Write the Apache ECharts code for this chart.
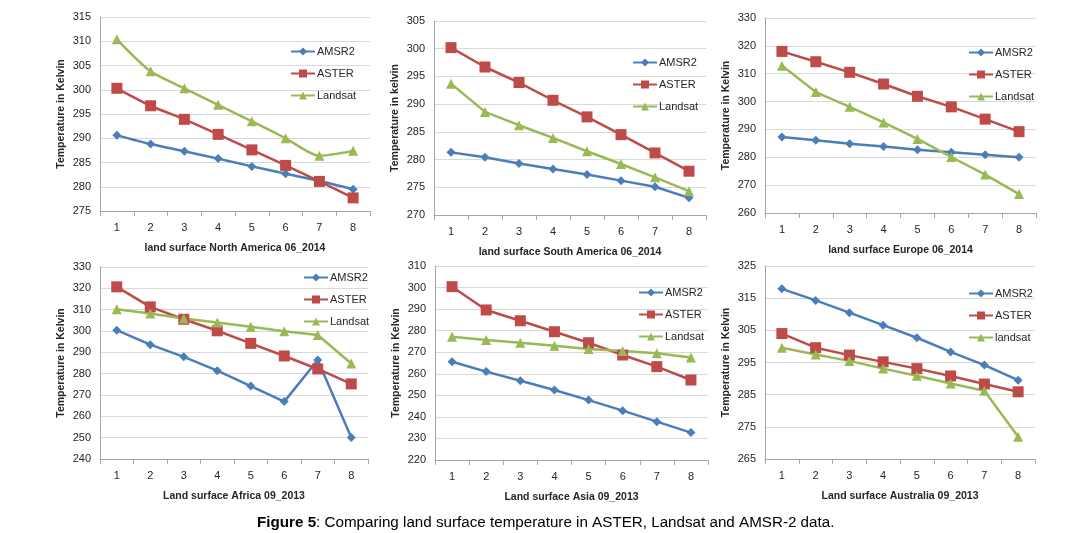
<!DOCTYPE html>
<html>
<head>
<meta charset="utf-8">
<script src="https://cdn.jsdelivr.net/npm/echarts@6/dist/echarts.min.js"></script>
<style>
html,body{margin:0;padding:0;background:#fff;}
#chart{width:1071px;height:533px;}
</style>
</head>
<body>
<div id="chart"></div>
<script>
var categories = ['1','2','3','4','5','6','7','8'];

var naAMSR2   = [290.6, 288.8, 287.3, 285.8, 284.2, 282.7, 281.2, 279.5];
var naASTER   = [300.3, 296.7, 293.9, 290.8, 287.6, 284.4, 281.1, 277.7];
var naLandsat = [310.4, 303.8, 300.3, 296.9, 293.5, 290.0, 286.4, 287.4];

var saAMSR2   = [281.3, 280.4, 279.3, 278.3, 277.3, 276.2, 275.1, 273.1];
var saASTER   = [300.2, 296.7, 293.9, 290.7, 287.7, 284.5, 281.2, 277.9];
var saLandsat = [293.7, 288.6, 286.2, 283.9, 281.5, 279.2, 276.8, 274.3];

var euAMSR2   = [287.3, 286.1, 284.9, 283.9, 282.7, 281.8, 280.9, 280.0];
var euASTER   = [318.0, 314.3, 310.5, 306.3, 301.9, 298.1, 293.7, 289.2];
var euLandsat = [312.9, 303.4, 298.1, 292.5, 286.6, 280.1, 273.8, 266.8];

var afAMSR2   = [300.4, 293.6, 287.9, 281.4, 274.2, 266.9, 286.4, 250.1];
var afASTER   = [320.7, 311.3, 305.5, 300.1, 294.2, 288.3, 282.2, 275.2];
var afLandsat = [310.2, 308.2, 305.9, 304.0, 302.0, 299.9, 298.1, 284.8];

var asAMSR2   = [265.6, 261.0, 256.8, 252.5, 247.8, 242.9, 237.8, 232.7];
var asASTER   = [300.4, 289.6, 284.6, 279.5, 274.4, 268.7, 263.3, 257.1];
var asLandsat = [277.2, 275.7, 274.4, 273.0, 271.5, 270.6, 269.5, 267.6];

var auAMSR2   = [317.9, 314.3, 310.5, 306.6, 302.7, 298.3, 294.2, 289.5];
var auASTER   = [304.0, 299.6, 297.3, 295.2, 293.1, 290.8, 288.3, 285.9];
var auLandsat = [299.6, 297.5, 295.5, 293.1, 290.9, 288.5, 286.2, 271.9];

var panelTitles = [
  'land surface North America 06_2014',
  'land surface South America 06_2014',
  'land surface Europe 06_2014',
  'Land surface Africa 09_2013',
  'Land surface Asia 09_2013',
  'Land surface Australia 09_2013'
];
var yTitles = [
  'Temperature in Kelvin','Temperature in kelvin','Temperature in Kelvin',
  'Temperature in Kelvin','Temperature in Kelvin','Temperature in Kelvin'
];
var yMins = [275, 270, 260, 240, 220, 265];
var yMaxs = [315, 305, 330, 330, 310, 325];
var yIntervals = [5, 5, 10, 10, 10, 10];
var landsatNames = ['Landsat','Landsat','Landsat','Landsat','Landsat','landsat'];

var panelData = [
  [naAMSR2, naASTER, naLandsat],
  [saAMSR2, saASTER, saLandsat],
  [euAMSR2, euASTER, euLandsat],
  [afAMSR2, afASTER, afLandsat],
  [asAMSR2, asASTER, asLandsat],
  [auAMSR2, auASTER, auLandsat]
];

var grids = [
  {left:100, top:17,  width:270, height:194},
  {left:434, top:21,  width:272, height:194},
  {left:765, top:18,  width:271, height:195},
  {left:100, top:267, width:268, height:192},
  {left:435, top:266, width:273, height:194},
  {left:765, top:266, width:270, height:193}
];
var legendPos = [
  {left:290, top:46}, {left:632, top:57}, {left:968, top:47},
  {left:303, top:272}, {left:638, top:287}, {left:968, top:288}
];

var FONT = 'Liberation Sans';
var TXT = '#262626';
var colors = ['#4A7EBB', '#BE4B48', '#98B954'];
var symbols = ['diamond', 'rect', 'triangle'];
var symbolSizes = [9, 11, 10];

var xAxes = [], yAxes = [], series = [], legends = [];
for (var i = 0; i < 6; i++) {
  xAxes.push({
    gridIndex: i, type: 'category', data: categories, boundaryGap: true,
    name: panelTitles[i], nameLocation: 'middle', nameGap: 32,
    nameTextStyle: {fontFamily: FONT, fontSize: 10.5, fontWeight: 'bold', color: TXT},
    axisLine: {lineStyle: {color: '#A6A6A6'}},
    axisTick: {show: true, length: 5, lineStyle: {color: '#A6A6A6'}},
    axisLabel: {fontFamily: FONT, fontSize: 11, color: TXT, margin: 11},
    splitLine: {show: false}
  });
  yAxes.push({
    gridIndex: i, type: 'value', min: yMins[i], max: yMaxs[i], interval: yIntervals[i],
    name: yTitles[i], nameLocation: 'middle', nameGap: 33, nameRotate: 90,
    nameTextStyle: {fontFamily: FONT, fontSize: 10.5, fontWeight: 'bold', color: TXT},
    axisLine: {show: true, lineStyle: {color: '#A6A6A6'}},
    axisTick: {show: false},
    axisLabel: {fontFamily: FONT, fontSize: 11, color: TXT, margin: 9},
    splitLine: {show: true, lineStyle: {color: '#D9D9D9', width: 1}}
  });
  var names = ['AMSR2', 'ASTER', landsatNames[i]];
  for (var s = 0; s < 3; s++) {
    series.push({
      type: 'line', name: names[s], xAxisIndex: i, yAxisIndex: i,
      data: panelData[i][s],
      smooth: i === 0 ? 0.25 : false,
      symbol: symbols[s], symbolSize: symbolSizes[s],
      lineStyle: {color: colors[s], width: 2.5},
      itemStyle: {color: colors[s]},
      animation: false
    });
  }
  legends.push({
    left: legendPos[i].left, top: legendPos[i].top, orient: 'vertical', padding: 0,
    data: names, itemWidth: 24, itemHeight: 10, itemGap: 11,
    textStyle: {fontFamily: FONT, fontSize: 11, color: TXT, padding: [0,0,0,-3]},
    selectedMode: false
  });
}

var chart = echarts.init(document.getElementById('chart'));
chart.setOption({
  animation: false,
  backgroundColor: '#fff',
  title: {
    text: '{b|Figure 5}: Comparing land surface temperature in ASTER, Landsat and AMSR-2 data.',
    left: 252, top: 510,
    textStyle: {
      fontFamily: FONT, fontSize: 15.2, fontWeight: 'normal', color: '#000',
      rich: {b: {fontFamily: FONT, fontSize: 15.2, fontWeight: 'bold', color: '#000'}}
    }
  },
  grid: grids,
  xAxis: xAxes,
  yAxis: yAxes,
  legend: legends,
  series: series
});
</script>
</body>
</html>
